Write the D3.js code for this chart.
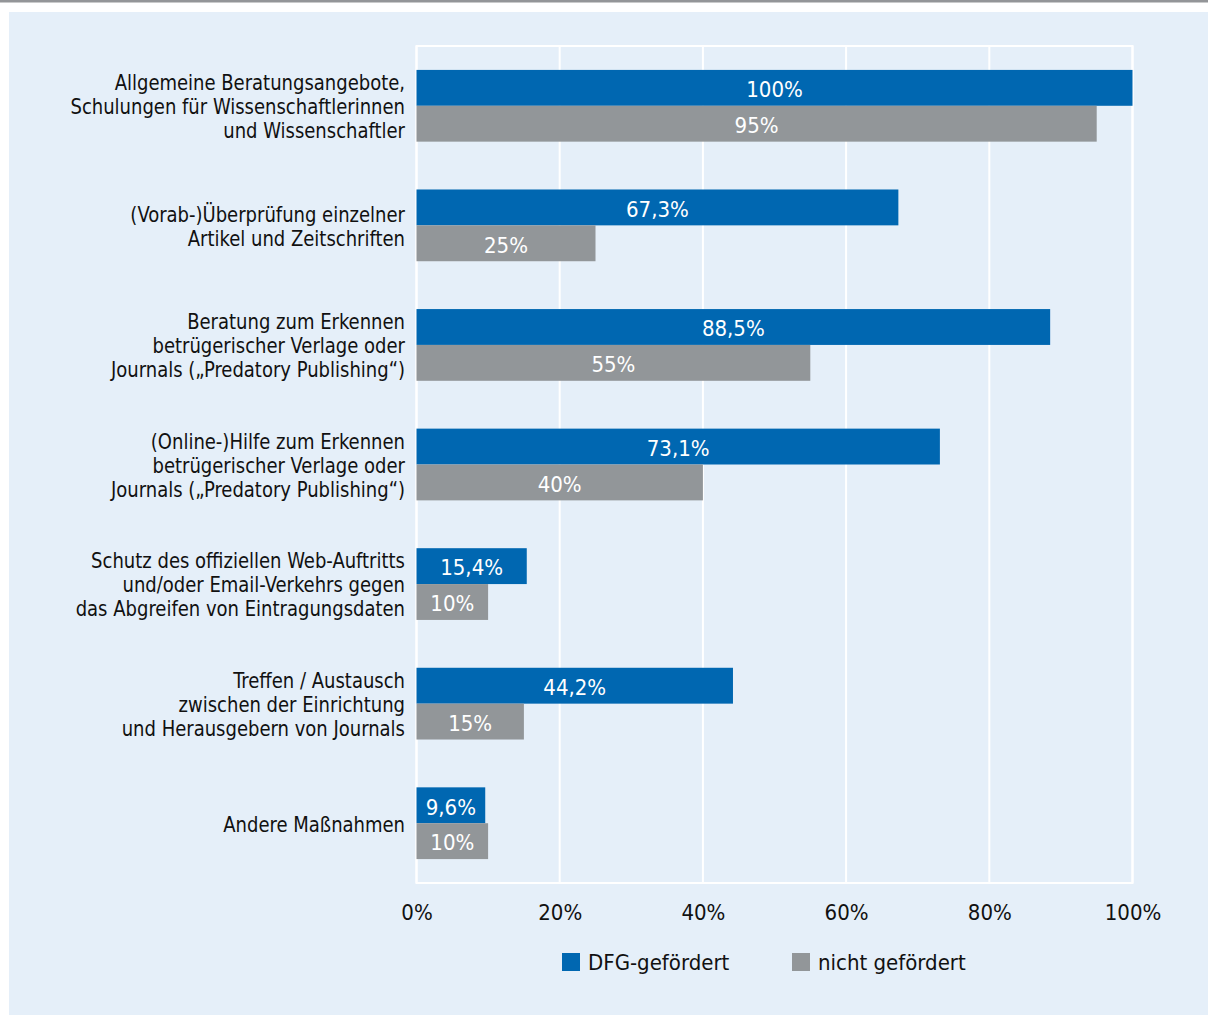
<!DOCTYPE html>
<html>
<head>
<meta charset="utf-8">
<script src="https://cdn.jsdelivr.net/npm/d3@7"></script>
<style>
  html, body { margin: 0; padding: 0; background: #ffffff; }
  svg { display: block; }
  text { font-family: "Liberation Sans Narrow", "DejaVu Sans Condensed", "Roboto Condensed", sans-serif; }
</style>
</head>
<body>
<svg id="chart" width="1208" height="1016"></svg>
<script>
// Measures offered, each label split into its printed lines
const categories = [
  ["Allgemeine Beratungsangebote,", "Schulungen für Wissenschaftlerinnen", "und Wissenschaftler"],
  ["(Vorab-)Überprüfung einzelner", "Artikel und Zeitschriften"],
  ["Beratung zum Erkennen", "betrügerischer Verlage oder", "Journals (\u201EPredatory Publishing\u201C)"],
  ["(Online-)Hilfe zum Erkennen", "betrügerischer Verlage oder", "Journals (\u201EPredatory Publishing\u201C)"],
  ["Schutz des offiziellen Web-Auftritts", "und/oder Email-Verkehrs gegen", "das Abgreifen von Eintragungsdaten"],
  ["Treffen / Austausch", "zwischen der Einrichtung", "und Herausgebern von Journals"],
  ["Andere Maßnahmen"]
];
const dfgFunded = [100, 67.3, 88.5, 73.1, 15.4, 44.2, 9.6];
const notFunded = [95, 25, 55, 40, 10, 15, 10];
const seriesNames = ["DFG-gefördert", "nicht gefördert"];
const tickValues = [0, 20, 40, 60, 80, 100];

const colors = ["#0067b1", "#929699"];
const fmt = v => String(v).replace(".", ",") + "%";

const svg = d3.select("#chart");

// Top rule and tinted panel
svg.append("rect").attr("x", 0).attr("y", 0).attr("width", 1208).attr("height", 2.5).attr("fill", "#939598");
svg.append("rect").attr("x", 9).attr("y", 12).attr("width", 1199).attr("height", 1003).attr("fill", "#e5eff9");

const plot = { left: 416.5, right: 1132.5, top: 46, bottom: 883 };

const x = d3.scaleLinear().domain([0, 100]).range([plot.left, plot.right]);
const y = d3.scaleBand().domain(d3.range(categories.length)).range([plot.top, plot.bottom]).paddingInner(0.4).paddingOuter(0.2);
const sub = d3.scaleBand().domain([0, 1]).range([0, y.bandwidth()]);

const g = svg.append("g");

// Plot frame and vertical grid
g.append("rect")
  .attr("x", plot.left).attr("y", plot.top)
  .attr("width", plot.right - plot.left).attr("height", plot.bottom - plot.top)
  .attr("fill", "none").attr("stroke", "#ffffff").attr("stroke-width", 2);
g.selectAll("line.grid").data(tickValues).join("line")
  .attr("class", "grid")
  .attr("x1", d => x(d)).attr("x2", d => x(d))
  .attr("y1", plot.top).attr("y2", plot.bottom)
  .attr("stroke", "#ffffff").attr("stroke-width", 2);

// Bars
const rows = categories.map((c, i) => ({ i, values: [dfgFunded[i], notFunded[i]] }));
const groups = g.selectAll("g.row").data(rows).join("g")
  .attr("class", "row")
  .attr("transform", d => `translate(0,${y(d.i)})`);

groups.selectAll("rect").data(d => d.values.map((v, s) => ({ v, s }))).join("rect")
  .attr("x", x(0))
  .attr("y", d => sub(d.s))
  .attr("width", d => x(d.v) - x(0))
  .attr("height", sub.bandwidth())
  .attr("fill", d => colors[d.s]);

groups.selectAll("text.val").data(d => d.values.map((v, s) => ({ v, s }))).join("text")
  .attr("class", "val")
  .attr("x", d => (x(0) + x(d.v)) / 2)
  .attr("y", d => sub(d.s) + sub.bandwidth() / 2)
  .attr("dy", "0.42em")
  .attr("text-anchor", "middle")
  .attr("fill", "#ffffff")
  .attr("font-size", 22)
  .text(d => fmt(d.v));

// Category labels, set slightly condensed
const lineH = 24;
const labelG = g.append("g").attr("transform", "translate(405,0) scale(0.91,1)");
const labels = labelG.selectAll("text.cat").data(rows).join("text")
  .attr("class", "cat")
  .attr("text-anchor", "end")
  .attr("fill", "#111111")
  .attr("font-size", 22)
  .attr("y", d => y(d.i) + y.bandwidth() / 2 - (categories[d.i].length - 1) * lineH / 2);
labels.selectAll("tspan").data(d => categories[d.i]).join("tspan")
  .attr("x", 0)
  .attr("dy", (d, k) => k === 0 ? "0.38em" : lineH)
  .text(d => d);

// Bottom axis labels
const axis = d3.axisBottom(x).tickValues(tickValues).tickFormat(d => d + "%").tickSize(0).tickPadding(0);
const ax = svg.append("g").attr("transform", `translate(0,${plot.bottom + 29})`).call(axis);
ax.select(".domain").remove();
ax.selectAll("text")
  .attr("font-size", 22)
  .attr("fill", "#111111")
  .attr("dy", "0.36em")
  .style("font-family", "\"Liberation Sans Narrow\", \"DejaVu Sans Condensed\", sans-serif");

// Legend
const legendX = [562, 792];
const legend = svg.append("g").selectAll("g").data(seriesNames).join("g")
  .attr("transform", (d, i) => `translate(${legendX[i]},953)`);
legend.append("rect").attr("width", 18).attr("height", 18).attr("fill", (d, i) => colors[i]);
legend.append("text")
  .attr("x", 26).attr("y", 9).attr("dy", "0.36em")
  .attr("font-size", 22).attr("fill", "#111111")
  .text(d => d);
</script>
</body>
</html>
